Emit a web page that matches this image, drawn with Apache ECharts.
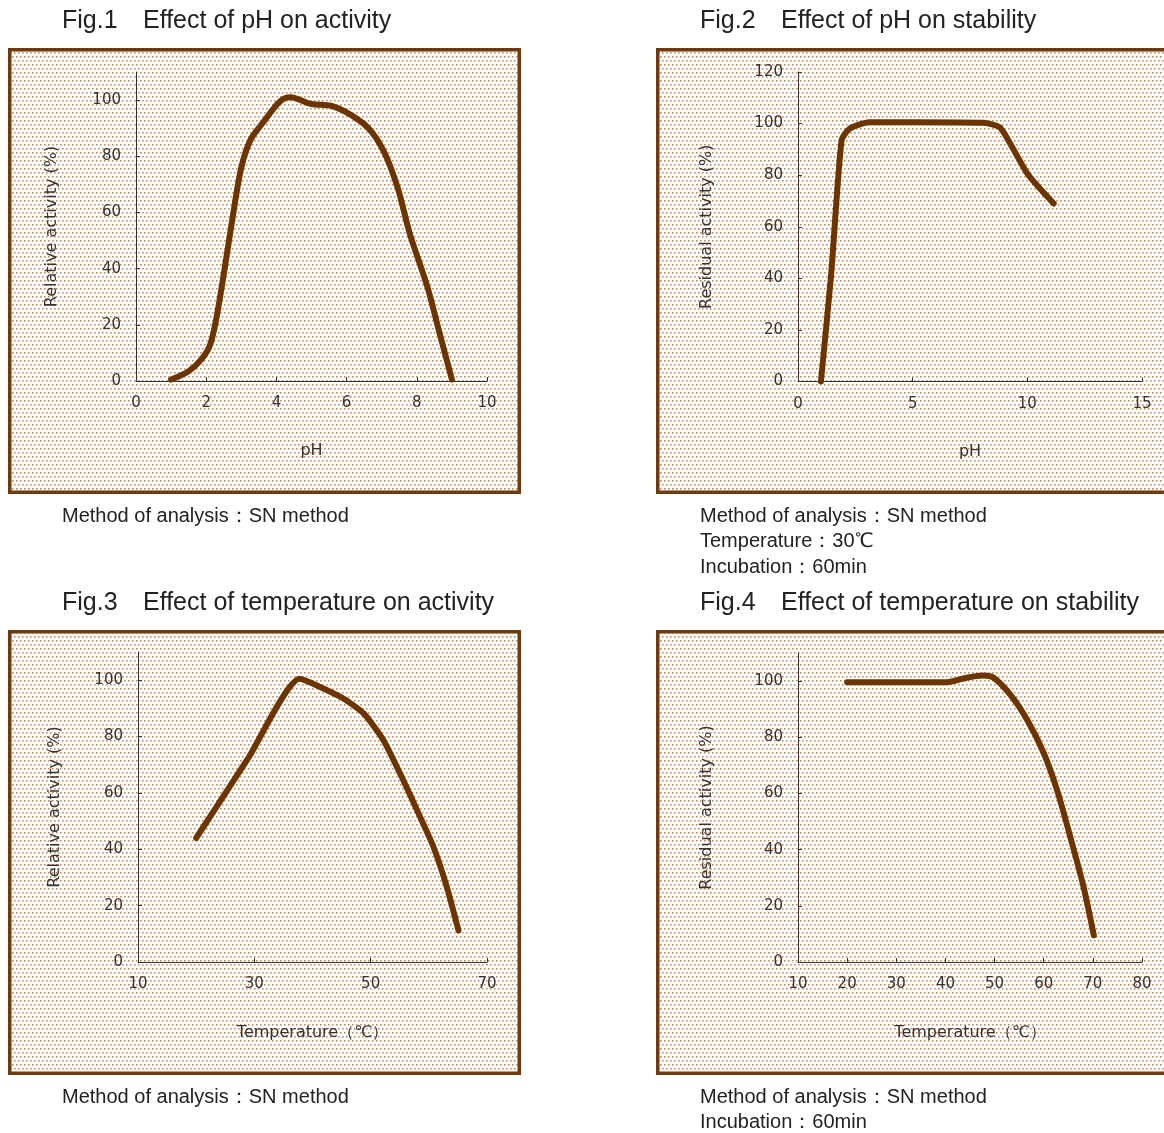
<!DOCTYPE html>
<html>
<head>
<meta charset="utf-8">
<script src="https://cdn.jsdelivr.net/npm/echarts@6/dist/echarts.min.js"></script>
<style>
html,body{margin:0;padding:0;background:#fff;}
#chart{width:1164px;height:1133px;}
</style>
</head>
<body>
<div id="chart"></div>
<script>
// ---- Data ----
const titles = [
  ['Fig.1', 'Effect of pH on activity'],
  ['Fig.2', 'Effect of pH on stability'],
  ['Fig.3', 'Effect of temperature on activity'],
  ['Fig.4', 'Effect of temperature on stability']
];
const notes1 = ['Method of analysis：SN method'];
const notes2 = ['Method of analysis：SN method', 'Temperature：30℃', 'Incubation：60min'];
const notes3 = ['Method of analysis：SN method'];
const notes4 = ['Method of analysis：SN method', 'Incubation：60min'];

const xNames = ['pH', 'pH', 'Temperature（℃）', 'Temperature（℃）'];
const yNames = ['Relative activity (%)', 'Residual activity (%)', 'Relative activity (%)', 'Residual activity (%)'];

const xTicks1 = [0, 2, 4, 6, 8, 10];
const xTicks2 = [0, 5, 10, 15];
const xTicks3 = [10, 30, 50, 70];
const xTicks4 = [10, 20, 30, 40, 50, 60, 70, 80];
const yTicks1 = [0, 20, 40, 60, 80, 100];
const yTicks2 = [0, 20, 40, 60, 80, 100, 120];
const yTicks3 = [0, 20, 40, 60, 80, 100];
const yTicks4 = [0, 20, 40, 60, 80, 100];

const ph1  = [1.0, 1.5, 1.85, 2.1, 2.27, 2.5, 2.75, 3.0, 3.27, 3.65, 4.1, 4.4, 5.0, 5.55, 6.0, 6.6, 7.05, 7.45, 7.8, 8.3, 8.65, 9.0];
const act1 = [0.5, 3.5, 7.5, 12.5, 21, 38, 58, 76, 86, 92.5, 99.5, 101, 98.6, 98, 95.6, 90.3, 82, 69, 52.5, 33.6, 17, 0.5];

const ph2  = [1.0, 1.45, 1.9, 2.25, 3.1, 5.2, 8.1, 8.8, 9.25, 10.0, 10.55, 11.15];
const res2 = [0, 42, 93.5, 98, 100.5, 100.5, 100.3, 98.5, 92.3, 80.6, 74.8, 69];

const temp3 = [20, 29, 37.8, 41.3, 45.3, 48.8, 52.2, 55.6, 58.5, 60.8, 63.1, 65.1];
const act3  = [44, 72.5, 100.5, 97.6, 93.5, 88.2, 78.7, 64.5, 51.5, 40.8, 26.6, 11.2];

const temp4 = [20, 30, 40.2, 44.3, 47.7, 49.8, 53.2, 56.6, 60, 62.7, 65.4, 68.1, 70.2];
const res4  = [99.6, 99.6, 99.6, 101.2, 102, 101.2, 95.2, 86.3, 74.4, 61.3, 44.6, 26.8, 9.5];

// ---- Styling / layout ----
const LINE = '#6b3400';
const BORDER = '#6e3a10';
const TXT = '#222';
const AX = '#333';

// dotted background pattern (offset rows of small dots)
const pc = document.createElement('canvas');
pc.width = 4; pc.height = 8;
const pctx = pc.getContext('2d');
pctx.fillStyle = '#ffffff'; pctx.fillRect(0, 0, 4, 8);
function dot(x, y) {
  pctx.fillStyle = '#b98e6a'; pctx.fillRect(x, y, 1, 1);
  pctx.fillStyle = '#d4b9a2'; pctx.fillRect(x + 1, y, 1, 1); pctx.fillRect(x, y + 1, 1, 1);
  pctx.fillStyle = '#e6d6c8'; pctx.fillRect(x + 1, y + 1, 1, 1);
}
dot(0, 0); dot(2, 4);
const pattern = { image: pc, repeat: 'repeat' };

const panels = [
  { x: 8,   y: 48,  w: 513, h: 446 },
  { x: 656, y: 48,  w: 520, h: 446 },
  { x: 8,   y: 630, w: 513, h: 445 },
  { x: 656, y: 630, w: 520, h: 445 }
];
const grids = [
  { left: 136, top: 72,  width: 351, height: 309 },
  { left: 798, top: 72,  width: 344, height: 309.5 },
  { left: 138, top: 652, width: 349, height: 310 },
  { left: 798, top: 653, width: 344, height: 309 }
];
const xRanges = [[0, 10], [0, 15], [10, 70], [10, 80]];
const yRanges = [[0, 110], [0, 120], [0, 110], [0, 110]];
const xTicks = [xTicks1, xTicks2, xTicks3, xTicks4];
const yTicks = [yTicks1, yTicks2, yTicks3, yTicks4];
const yNameGaps = [76, 83, 75, 83];
const xNameGaps = [62, 62, 63, 63];
const seriesX = [ph1, ph2, temp3, temp4];
const seriesY = [act1, res2, act3, res4];
const smooths = [0.3, 0.2, 0.2, 0.3];

const graphics = [];
panels.forEach(p => {
  graphics.push({
    type: 'rect', z: -10, silent: true,
    shape: { x: p.x + 1.75, y: p.y + 1.75, width: p.w - 3.5, height: p.h - 3.5 },
    style: { fill: pattern, stroke: BORDER, lineWidth: 3.5 }
  });
});
const titlePos = [[62, 21], [700, 21], [62, 603], [700, 603]];
titles.forEach((t, i) => {
  graphics.push({
    type: 'text', left: titlePos[i][0], top: titlePos[i][1] - 12, silent: true,
    style: {
      text: '{a|' + t[0] + '}{b|' + t[1] + '}',
      rich: {
        a: { width: 81, fontSize: 25, fontFamily: 'Liberation Sans, Arial', fill: TXT },
        b: { fontSize: 25, fontFamily: 'Liberation Sans, Arial', fill: TXT }
      }
    }
  });
});
function addNotes(lines, x, y0) {
  lines.forEach((s, k) => {
    graphics.push({
      type: 'text', left: x, top: y0 + k * 25.5 - 9, silent: true,
      style: { text: s, fontSize: 20, fontFamily: 'Liberation Sans, Arial', fill: TXT }
    });
  });
}
addNotes(notes1, 62, 515);
addNotes(notes2, 700, 515);
addNotes(notes3, 62, 1096);
addNotes(notes4, 700, 1096);

const font = 'DejaVu Sans';
const option = {
  animation: false,
  backgroundColor: '#ffffff',
  graphic: graphics,
  grid: grids.map(g => Object.assign({ containLabel: false }, g)),
  xAxis: grids.map((g, i) => ({
    type: 'value', gridIndex: i,
    min: xRanges[i][0], max: xRanges[i][1],
    name: xNames[i], nameLocation: 'middle', nameGap: xNameGaps[i],
    nameTextStyle: { fontFamily: font, fontSize: 16, color: AX },
    axisLine: { show: true, onZero: false, lineStyle: { color: AX, width: 1 } },
    axisTick: { show: true, inside: true, length: 4, customValues: xTicks[i], lineStyle: { color: AX } },
    axisLabel: { customValues: xTicks[i], margin: 15, fontFamily: font, fontSize: 15, color: AX },
    splitLine: { show: false }
  })),
  yAxis: grids.map((g, i) => ({
    type: 'value', gridIndex: i,
    min: yRanges[i][0], max: yRanges[i][1],
    name: yNames[i], nameLocation: 'middle', nameGap: yNameGaps[i],
    nameTextStyle: { fontFamily: font, fontSize: 16, color: AX },
    axisLine: { show: true, onZero: false, lineStyle: { color: AX, width: 1 } },
    axisTick: { show: true, inside: true, length: 4, customValues: yTicks[i], lineStyle: { color: AX } },
    axisLabel: { customValues: yTicks[i], margin: 15, fontFamily: font, fontSize: 15, color: AX },
    splitLine: { show: false }
  })),
  series: seriesX.map((xs, i) => ({
    type: 'line', xAxisIndex: i, yAxisIndex: i,
    data: xs.map((x, k) => [x, seriesY[i][k]]),
    smooth: smooths[i], showSymbol: false, symbol: 'none',
    lineStyle: { color: LINE, width: 6, cap: 'round', join: 'round' },
    z: 5
  }))
};
const chart = echarts.init(document.getElementById('chart'), null, { renderer: 'canvas' });
chart.setOption(option);
</script>
</body>
</html>
